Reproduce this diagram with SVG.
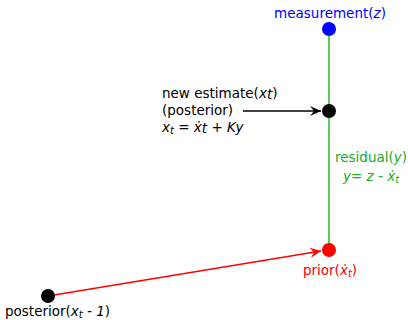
<svg xmlns="http://www.w3.org/2000/svg" width="408" height="320" viewBox="0 0 408 320">
<defs>
<style>
text{font-family:"DejaVu Sans",sans-serif;font-size:13.5px}
.i{font-style:italic}
.s{font-size:10px}
</style>
<marker id="ak" markerWidth="12" markerHeight="10" refX="11" refY="5" orient="auto" markerUnits="userSpaceOnUse"><path d="M0,0 L11,5 L0,10 L4,5 z" fill="#000"/></marker>
<marker id="ar" markerWidth="12" markerHeight="10" refX="11" refY="5" orient="auto" markerUnits="userSpaceOnUse"><path d="M0,0 L11,5 L0,10 L4,5 z" fill="#f00"/></marker>
</defs>
<rect width="408" height="320" fill="#fff"/>
<g id="connectors">
<line x1="329" y1="29" x2="329" y2="250" stroke="#22bb22" stroke-width="1.5"/>
<line x1="243" y1="111" x2="321" y2="111" stroke="#000" stroke-width="1.5" marker-end="url(#ak)"/>
<line x1="48" y1="296" x2="321" y2="251" stroke="#f00" stroke-width="1.5" marker-end="url(#ar)"/>
</g>
<g id="measurement">
<circle cx="329" cy="29" r="7" fill="#00f"/>
<text x="330" y="18" text-anchor="middle" fill="#00f">measurement(<tspan class="i">z</tspan>)</text>
</g>
<g id="new-estimate">
<circle cx="329" cy="111" r="7" fill="#000"/>
<text x="162" y="98">new estimate(<tspan class="i">x<tspan dy="1">t</tspan></tspan><tspan dy="-1">)</tspan></text>
<text x="162" y="115">(posterior)</text>
<text x="162" y="132" class="i">x<tspan class="s" dy="2">t</tspan><tspan dy="-2"> = ẋ</tspan><tspan dy="1">t</tspan><tspan dy="-1"> + Ky</tspan></text>
</g>
<g id="residual">
<text x="335" y="162" fill="#22aa22">residual(<tspan class="i">y</tspan>)</text>
<text x="343" y="181" fill="#22aa22" class="i">y= z - ẋ<tspan class="s" dy="2">t</tspan></text>
</g>
<g id="prior">
<circle cx="329" cy="250" r="7" fill="#f00"/>
<text x="330" y="275" text-anchor="middle" fill="#f00">prior(<tspan class="i">ẋ<tspan class="s" dy="2">t</tspan></tspan><tspan dy="-2">)</tspan></text>
</g>
<g id="posterior">
<circle cx="48" cy="296" r="7" fill="#000"/>
<text x="5" y="316">posterior(<tspan class="i">x<tspan class="s" dy="2">t</tspan><tspan dy="-2"> - 1</tspan></tspan>)</text>
</g>
</svg>
